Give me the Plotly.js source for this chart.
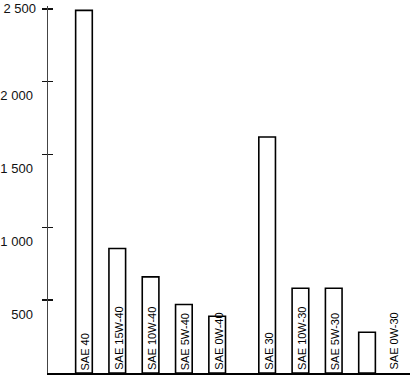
<!DOCTYPE html>
<html>
<head>
<meta charset="utf-8">
<script src="https://cdn.plot.ly/plotly-3.0.1.min.js"></script>
<style>html,body{margin:0;padding:0;background:#fff;}#chart{width:410px;height:380px;}</style>
</head>
<body>
<div id="chart"></div>
<script>
// Data
var grades40 = ["SAE 40", "SAE 15W-40", "SAE 10W-40", "SAE 5W-40", "SAE 0W-40"];
var values40 = [2490, 855, 660, 470, 390];
var grades30 = ["SAE 30", "SAE 10W-30", "SAE 5W-30", "SAE 0W-30"];
var values30 = [1620, 582, 582, 280];
var tickValues = [500, 1000, 1500, 2000, 2500];
var tickLabels = ["500", "1 000", "1 500", "2 000", "2 500"];

var groupGap = 5.5; // start of second group on the x scale
var x40 = grades40.map(function (_, i) { return i; });
var x30 = grades30.map(function (_, i) { return groupGap + i; });

var barStyle = {color: "#ffffff", line: {color: "#000000", width: 1.6}};
var traces = [
  {type: "bar", x: x40, y: values40, width: 0.5, marker: barStyle, hoverinfo: "skip"},
  {type: "bar", x: x30, y: values30, width: 0.5, marker: barStyle, hoverinfo: "skip"},
  {type: "scatter", x: [0], y: [0], yaxis: "y2", mode: "markers",
   marker: {size: 0, opacity: 0}, hoverinfo: "skip"}
];

var font = {family: "Liberation Sans, Arial, sans-serif", size: 13, color: "#111"};
var annotations = [];
function addLabels(names, xs) {
  names.forEach(function (n, i) {
    var last = (names === grades30 && i === names.length - 1);
    annotations.push({
      x: xs[i], y: 0, xref: "x", yref: "y", text: n, showarrow: false,
      textangle: -90, yanchor: "bottom", xanchor: "center", yshift: 1,
      xshift: last ? 26 : 1,
      font: {family: font.family, size: 11, color: "#000"}
    });
  });
}
addLabels(grades40, x40);
addLabels(grades30, x30);

var yRange = [0, 2520];
var layout = {
  width: 410, height: 380,
  margin: {l: 48, r: 0, t: 6, b: 7, pad: 0},
  paper_bgcolor: "#fff", plot_bgcolor: "#fff",
  showlegend: false, bargap: 0,
  font: font,
  xaxis: {range: [-1.08, 9.79], showgrid: false, zeroline: false, showticklabels: false,
          ticks: "", showline: true, linecolor: "#000", linewidth: 1.5, fixedrange: true},
  yaxis: {range: yRange, showgrid: false, zeroline: false, showline: true,
          linecolor: "#444", linewidth: 1.5, ticks: "outside", ticklen: 5, tickwidth: 1.5,
          tickcolor: "#111", tickmode: "array", tickvals: tickValues,
          ticktext: tickLabels.map(function (t, i) { return i < tickLabels.length - 1 ? t : ""; }),
          ticklabelshift: 14, ticklabelstandoff: 6, tickfont: font, fixedrange: true},
  yaxis2: {range: yRange, overlaying: "y", side: "left", anchor: "x", showgrid: false,
           zeroline: false, showline: false, ticks: "inside", ticklen: 5, tickwidth: 1.5,
           tickcolor: "#111", tickmode: "array", tickvals: tickValues,
           ticktext: tickLabels.map(function (t, i) { return i === tickLabels.length - 1 ? t : ""; }),
           ticklabelstandoff: 11, tickfont: font, fixedrange: true},
  annotations: annotations
};

Plotly.newPlot("chart", traces, layout, {displayModeBar: false, staticPlot: true});
</script>
</body>
</html>
